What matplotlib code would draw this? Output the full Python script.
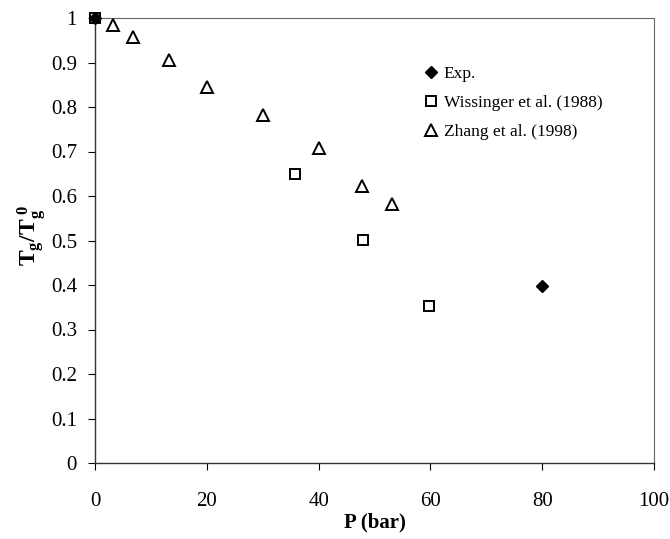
import matplotlib
matplotlib.use("Agg")
import matplotlib.pyplot as plt
from matplotlib.ticker import FuncFormatter

plt.rcParams['font.family'] = ['Liberation Serif', 'DejaVu Serif']
plt.rcParams['mathtext.fontset'] = 'custom'
plt.rcParams['mathtext.rm'] = 'Liberation Serif'
plt.rcParams['mathtext.bf'] = 'Liberation Serif:bold'
plt.rcParams['mathtext.it'] = 'Liberation Serif:italic'

exp_p = [0, 80]
exp_t = [1.0, 0.398]
wiss_p = [0, 35.8, 48.0, 59.8]
wiss_t = [1.0, 0.649, 0.501, 0.353]
zhang_p = [3.2, 6.8, 13.3, 20.0, 30.1, 40.0, 47.8, 53.1]
zhang_t = [0.984, 0.957, 0.906, 0.845, 0.782, 0.708, 0.622, 0.582]

xticks = [0, 20, 40, 60, 80, 100]
yticks = [0, 0.1, 0.2, 0.3, 0.4, 0.5, 0.6, 0.7, 0.8, 0.9, 1.0]

fig = plt.figure(figsize=(6.7, 5.39), dpi=100)
ax = fig.add_axes([95/670, 76/539, (654-95)/670, (463-18)/539])

ax.plot(wiss_p, wiss_t, linestyle='none', marker='s', markersize=6.5,
        markerfacecolor='white', markeredgecolor='black', markeredgewidth=1.4,
        label='Wissinger et al. (1988)', clip_on=False, zorder=3)
ax.plot(zhang_p, zhang_t, linestyle='none', marker='^', markersize=8,
        markerfacecolor='white', markeredgecolor='black', markeredgewidth=1.4,
        label='Zhang et al. (1998)', clip_on=False, zorder=3)
ax.plot(exp_p, exp_t, linestyle='none', marker='D', markersize=6.5,
        markerfacecolor='black', markeredgecolor='black',
        label='Exp.', clip_on=False, zorder=4)

ax.set_xlim(0, 100)
ax.set_ylim(0, 1)
ax.set_xticks(xticks)
ax.set_yticks(yticks)
ax.yaxis.set_major_formatter(FuncFormatter(lambda v, p: f"{v:g}"))
ax.tick_params(direction='out', length=5, width=0.8, labelsize=15, pad=8)
ax.tick_params(axis='x', pad=16)

for s in ['left', 'bottom']:
    ax.spines[s].set_color('#333333')
    ax.spines[s].set_linewidth(1.0)
for s in ['top', 'right']:
    ax.spines[s].set_color('#666666')
    ax.spines[s].set_linewidth(0.8)

ax.set_xlabel('P (bar)', fontsize=15, fontweight='bold', labelpad=1)
ax.set_ylabel(r'$\mathbf{T_g/T_g^{\ 0}}$', fontsize=17)
ax.yaxis.set_label_coords(-0.082, 0.51)

h, l = ax.get_legend_handles_labels()
order = [2, 0, 1]
leg = ax.legend([h[i] for i in order], [l[i] for i in order],
                loc='upper left', bbox_to_anchor=(0.58, 0.908), frameon=False,
                fontsize=12.5, handlelength=0.6, handletextpad=0.4,
                labelspacing=0.75, borderaxespad=0)

fig.savefig('out.png', dpi=100)
